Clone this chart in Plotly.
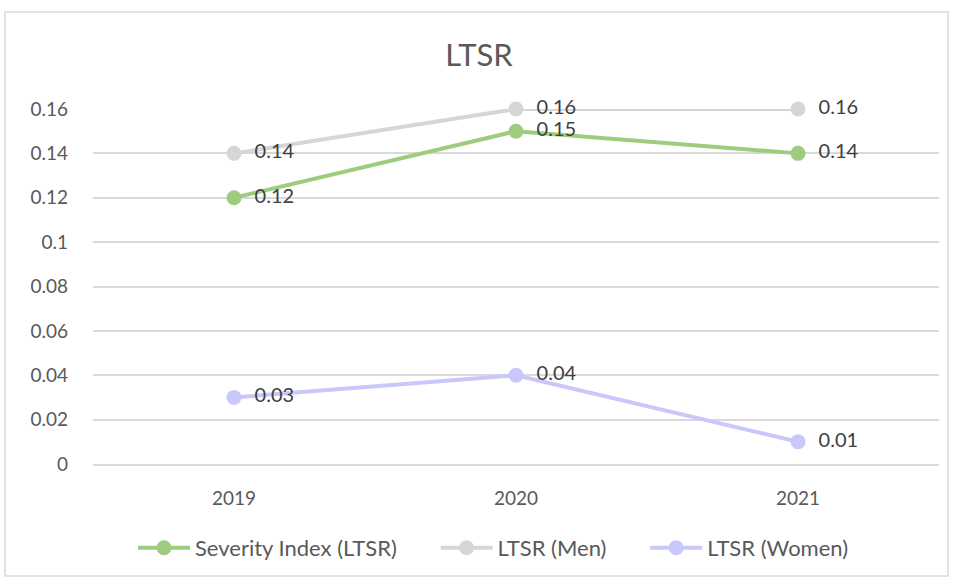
import plotly.graph_objects as go

years = ["2019", "2020", "2021"]
severity = [0.12, 0.15, 0.14]
men = [0.14, 0.16, 0.16]
women = [0.03, 0.04, 0.01]
series_names = ["Severity Index (LTSR)", "LTSR (Men)", "LTSR (Women)"]
colors = ["#9DCC7F", "#D6D6D6", "#C8C8FA"]
tick_vals = [0, 0.02, 0.04, 0.06, 0.08, 0.1, 0.12, 0.14, 0.16]
tick_text = ["0", "0.02", "0.04", "0.06", "0.08", "0.1", "0.12", "0.14", "0.16"]

FONT = "Lato, Liberation Sans, sans-serif"
NB = "\u00a0"

fig = go.Figure()
for name, vals, col in zip(series_names, [severity, men, women], colors):
    fig.add_trace(go.Scatter(
        x=years, y=vals, name=name + NB * 6, mode="lines+markers+text",
        line=dict(color=col, width=4),
        marker=dict(color=col, size=15),
        text=[NB * 2 + f"{v:g}" for v in vals],
        textposition="middle right",
        textfont=dict(family=FONT, size=20, color="#404040"),
        cliponaxis=False,
    ))

W, H = 958, 581
L, R, T, B = 93, 19, 109, 117
pw, ph = W - L - R, H - T - B

def px(x):
    return (x - L) / pw

def py(y):
    return (H - B - y) / ph

fig.update_layout(
    width=W, height=H,
    margin=dict(l=L, r=R, t=T, b=B, autoexpand=False),
    paper_bgcolor="white", plot_bgcolor="white",
    title=dict(text="LTSR", x=0.5, xanchor="center", y=1 - 55 / H, yanchor="middle",
               font=dict(family=FONT, size=31, color="#595959")),
    xaxis=dict(range=[-0.5, 2.5], showgrid=False, showline=True, linecolor="#D9D9D9",
               linewidth=1.5, tickfont=dict(family=FONT, size=19, color="#595959"),
               ticks="", ticklabelstandoff=16),
    yaxis=dict(range=[0, 0.16], tickvals=tick_vals, ticktext=tick_text,
               showgrid=True, gridcolor="#D9D9D9", gridwidth=1.5, zeroline=False,
               tickfont=dict(family=FONT, size=19, color="#595959"),
               ticklabelstandoff=24),
    legend=dict(orientation="h", x=px(133), xanchor="left", y=py(548), yanchor="middle",
                font=dict(family=FONT, size=22, color="#595959"),
                itemwidth=52, traceorder="normal"),
    showlegend=True,
    shapes=[dict(type="rect", xref="paper", yref="paper",
                 x0=px(5), x1=px(948), y0=py(576), y1=py(12),
                 line=dict(color="#D9D9D9", width=1.5), fillcolor="rgba(0,0,0,0)",
                 layer="below")],
)

fig.write_html("out.html", config={"displayModeBar": False},
               post_script="document.body.style.margin='0';")
